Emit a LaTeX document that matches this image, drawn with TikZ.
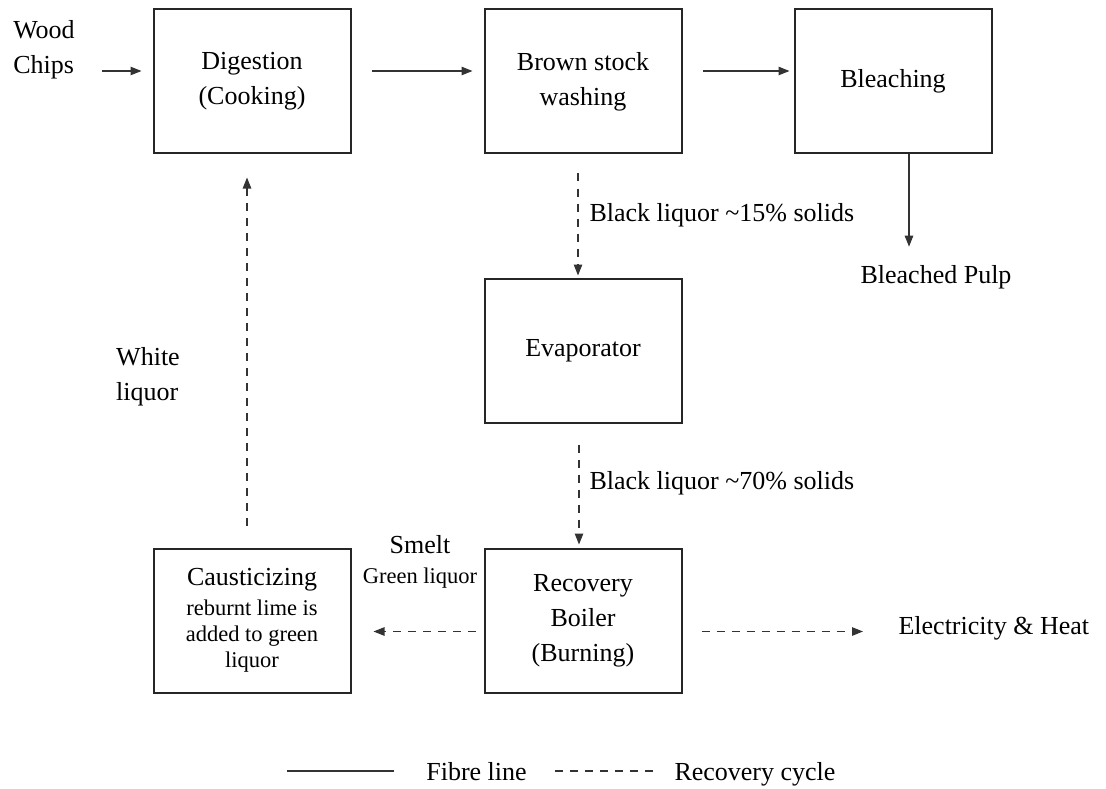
\documentclass[tikz,border=0pt]{standalone}
\usepackage{fontspec}
\setmainfont{Liberation Serif}
\usetikzlibrary{arrows.meta, positioning}

\newcommand{\lesstext}{\fontsize{22.5}{26}\selectfont}

\begin{document}
\begin{tikzpicture}[
            x = 1pt, y = -1pt,
            > = {Triangle[length=11pt, width=8.5pt]},
            font = \fontsize{26}{35}\selectfont,
            every node/.style = {inner sep = 2pt},
            line width = 1.1pt,
            draw = black!80
        ]

        \tikzstyle{unit}=[
            draw = black!85,
            line width = 2pt,
            minimum width = 197pt,
            minimum height = 144pt,
            align = center
        ]
        \tikzset{recov/.style={dash pattern=on 8pt off 7pt}}

        \useasboundingbox (0,0) rectangle (1106,789);

        \node[unit] (dig) at (252,81.5) {Digestion\\(Cooking)};
        \node[unit] (wash) [right=132pt of dig] {Brown stock\\washing};
        \node[unit] (bleach) [right=111pt of wash] {Bleaching};
        \node[unit] (evap) [below=123pt of wash] {Evaporator};
        \node[unit] (boiler) [below=124pt of evap] {Recovery\\Boiler\\(Burning)};
        \node[unit] (caustic) [left=132pt of boiler] {Causticizing\\[-5pt]
            \lesstext reburnt lime is\\[-9pt]
            \lesstext added to green\\[-9pt]
            \lesstext liquor};

        \node[align=left] (chips) at (44,50) {Wood\\Chips};
        \coordinate (feed) at (102,71);
        \node (pulp) at (936,277) {Bleached Pulp};
        \node[anchor=west] (power) at (896,628) {Electricity \& Heat};
        \node (smelt) at (420,545) {Smelt};
        \node[font=\lesstext] (green) at (420,578) {Green liquor};
        \node[align=left] (white) at (148,377) {White\\liquor};
        \node[anchor=west] (bl15) at (587,215) {Black liquor \textasciitilde15\% solids};
        \node[anchor=west] (bl70) at (587,483) {Black liquor \textasciitilde70\% solids};

        % fibre line
        \draw[->, shorten >=11pt] (feed) -- (feed -| dig.west);
        \draw[->, shorten <=20pt, shorten >=11pt] ([yshift=10.5pt]dig.east) -- ([yshift=10.5pt]wash.west);
        \draw[->, shorten <=20pt, shorten >=4pt] ([yshift=10.5pt]wash.east) -- ([yshift=10.5pt]bleach.west);
        \draw[->, shorten >=16pt] ([xshift=16pt]bleach.south) -- ([xshift=16pt]bleach.south |- pulp.north);

        % recovery cycle
        \draw[->, recov, shorten <=19pt, shorten >=2pt] ([xshift=-5pt]wash.south) -- ([xshift=-5pt]evap.north);
        \draw[->, recov, shorten <=21pt, shorten >=3pt] ([xshift=-4pt]evap.south) -- ([xshift=-4pt]boiler.north);
        \draw[->, recov, shorten <=8pt, shorten >=22pt] ([yshift=-11pt]boiler.west) -- ([yshift=-11pt]caustic.east);
        \draw[->, recov, shorten <=19pt, shorten >=33pt] ([yshift=-11pt]boiler.east) -- ([yshift=-11pt]boiler.east -| power.west);
        \draw[->, recov, shorten <=22pt, shorten >=23pt] ([xshift=-5pt]caustic.north) -- ([xshift=-5pt]dig.south);

        % legend
        \node[anchor=base] (fibre) at (476.5,780) {Fibre line};
        \node[anchor=base] (cycle) at (755,780) {Recovery cycle};
        \coordinate (fibrekey) at (287,771);
        \coordinate (cyclekey) at (555,771);
        \draw[shorten >=30pt] (fibrekey) -- (fibrekey -| fibre.west);
        \draw[recov, shorten >=16pt] (cyclekey) -- (cyclekey -| cycle.west);

    \end{tikzpicture}
\end{document}
